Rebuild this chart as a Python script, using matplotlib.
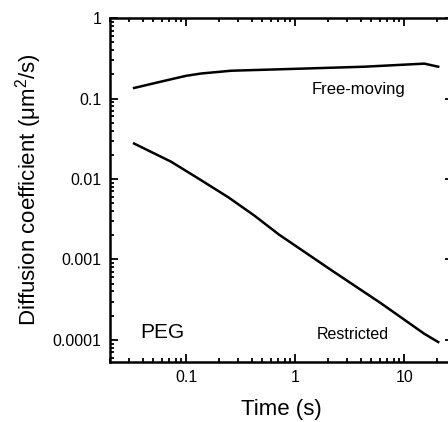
import matplotlib
matplotlib.use("Agg")
from matplotlib import pyplot as plt
from matplotlib.ticker import LogLocator, NullFormatter, FixedLocator, FixedFormatter
import numpy as np

plt.rcParams["font.family"] = ["Liberation Sans", "DejaVu Sans"]

# Free-moving curve (time in s, D in um^2/s)
free_t = [0.0333, 0.0628, 0.1, 0.137, 0.259, 1.07, 4.3, 15.3, 20.5]
free_d = [0.1355, 0.166, 0.192, 0.205, 0.222, 0.235, 0.249, 0.272, 0.249]

# Restricted curve
restr_t = [0.0333, 0.0728, 0.1316, 0.243, 0.421, 0.713, 2.14, 6.15, 15.3, 20.5]
restr_d = [0.0276, 0.0164, 0.0100, 0.00594, 0.00352, 0.00203, 0.000738,
           0.000284, 0.000119, 0.000094]

xticks = [0.1, 1, 10]
xticklabels = ["0.1", "1", "10"]
yticks = [1e-4, 1e-3, 1e-2, 1e-1, 1]
yticklabels = ["0.0001", "0.001", "0.01", "0.1", "1"]

fig = plt.figure(figsize=(4.48, 4.22), dpi=100)
# the right edge of the box sits just outside the picture, as in the original crop
ax = fig.add_axes([0.2455, 0.142, 0.7656, 0.815])

ax.plot(free_t, free_d, color="black", lw=1.8)
ax.plot(restr_t, restr_d, color="black", lw=1.8)

ax.set_xscale("log")
ax.set_yscale("log")
ax.set_xlim(0.02, 28)
ax.set_ylim(5.3e-5, 1)

ax.xaxis.set_major_locator(FixedLocator(xticks))
ax.xaxis.set_major_formatter(FixedFormatter(xticklabels))
ax.yaxis.set_major_locator(FixedLocator(yticks))
ax.yaxis.set_major_formatter(FixedFormatter(yticklabels))
ax.xaxis.set_minor_locator(LogLocator(base=10, subs=np.arange(2, 10), numticks=20))
ax.yaxis.set_minor_locator(LogLocator(base=10, subs=np.arange(2, 10), numticks=20))
ax.xaxis.set_minor_formatter(NullFormatter())
ax.yaxis.set_minor_formatter(NullFormatter())

ax.tick_params(which="both", direction="in", top=True, right=True,
               labelsize=11.5, width=1.3, pad=6)
ax.tick_params(which="major", length=6)
ax.tick_params(which="minor", length=3.2)
for s in ax.spines.values():
    s.set_linewidth(1.8)

ax.set_xlabel("Time (s)", fontsize=16, labelpad=10)
ax.set_ylabel("Diffusion coefficient ($\\mathregular{\\mu m^2/s}$)", fontsize=16, labelpad=6)

ax.text(3.8, 0.13, "Free-moving", fontsize=12, ha="center", va="center")
ax.text(3.4, 0.000118, "Restricted", fontsize=11.5, ha="center", va="center")
ax.text(0.06, 0.000125, "PEG", fontsize=15, ha="center", va="center")

fig.savefig("out.png", dpi=100)
